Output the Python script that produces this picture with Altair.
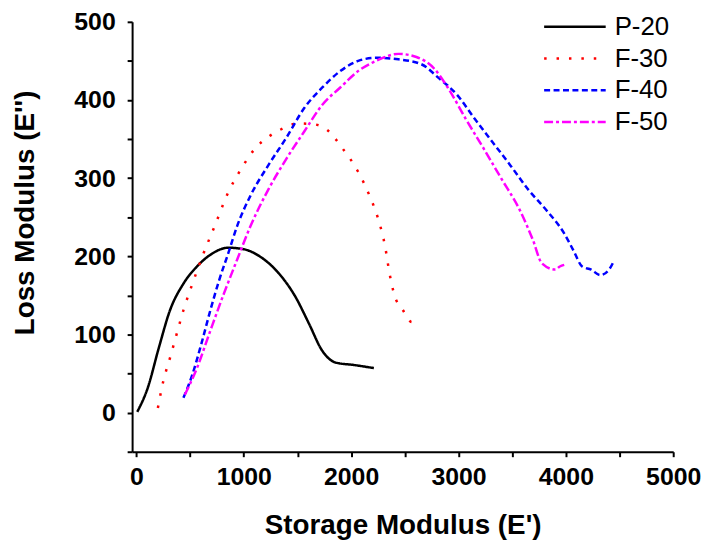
import altair as alt
import pandas as pd

series_names = ["P-20", "F-30", "F-40", "F-50"]
series_colors = ["#000000", "#ff0000", "#0000ff", "#ff00ff"]
series_dashes = [[1, 0], [2.5, 10], [6, 3.5], [9, 3, 3, 3]]

p20_x = [8, 104, 209, 313, 438, 564, 689, 856, 1002, 1148, 1315, 1482, 1607, 1732, 1857, 2024, 2212]
p20_y = [1, 31, 83, 131, 165, 187, 202, 211, 209, 200, 180, 148, 114, 79, 64, 61, 57]

f30_x = [200, 250, 313, 376, 438, 522, 626, 730, 856, 981, 1106, 1231, 1356, 1503, 1649, 1774, 1920,
         2066, 2170, 2254, 2316, 2358, 2400, 2483, 2566, 2590, 2610]
f30_y = [6, 40, 70, 101, 131, 165, 204, 239, 282, 313, 338, 353, 363, 370, 369, 362, 338,
         308, 278, 247, 213, 178, 152, 131, 116, 120, 125]

f40_x = [438, 522, 605, 689, 772, 856, 939, 1064, 1231, 1398, 1565, 1732, 1899, 2066, 2233, 2441,
         2650, 2817, 2984, 3151, 3318, 3485, 3652, 3819, 3986, 4069, 4152, 4236, 4319, 4402, 4444]
f40_y = [19, 49, 88, 131, 170, 204, 239, 278, 317, 352, 390, 416, 437, 450, 454, 452,
         446, 428, 407, 376, 346, 316, 285, 259, 229, 208, 187, 183, 176, 183, 193]

f50_x = [451, 564, 689, 814, 939, 1064, 1231, 1398, 1565, 1732, 1899, 2066, 2233, 2441, 2608,
         2775, 2900, 3067, 3234, 3401, 3568, 3693, 3777, 3902, 3944, 3985]
f50_y = [23, 57, 105, 152, 196, 239, 286, 325, 360, 394, 416, 437, 450, 459, 455,
         440, 416, 376, 338, 299, 260, 221, 191, 183, 187, 189]

x_ticks = [0, 500, 1000, 1500, 2000, 2500, 3000, 3500, 4000, 4500, 5000]
y_ticks = [-50, 0, 50, 100, 150, 200, 250, 300, 350, 400, 450, 500]

rows = []
for name, xs, ys in zip(series_names, [p20_x, f30_x, f40_x, f50_x], [p20_y, f30_y, f40_y, f50_y]):
    for i, (xv, yv) in enumerate(zip(xs, ys)):
        rows.append({"series": name, "E1": xv, "E2": yv, "idx": i})
df = pd.DataFrame(rows)

FONT = "Liberation Sans"

chart = alt.Chart(df).mark_line(strokeWidth=2.5, interpolate="monotone").encode(
    x=alt.X("E1:Q", scale=alt.Scale(domain=[-40, 5000], nice=False, zero=False),
            axis=alt.Axis(title="Storage Modulus (E')", values=x_ticks,
                          labelExpr="datum.value % 1000 == 0 ? datum.label : ''",
                          format="d", labelPadding=8, titlePadding=22, labelFlush=False)),
    y=alt.Y("E2:Q", scale=alt.Scale(domain=[-50, 500], nice=False, zero=False),
            axis=alt.Axis(title="Loss Modulus (E'')", values=y_ticks,
                          labelExpr="datum.value % 100 == 0 && datum.value >= 0 ? datum.label : ''",
                          format="d", labelPadding=12, labelFlush=False,
                          titleX=-99, titleY=192, titleBaseline="alphabetic",
                          titleAngle=270, titleAlign="center")),
    color=alt.Color("series:N", scale=alt.Scale(domain=series_names, range=series_colors),
                    legend=alt.Legend(title=None, orient="none", legendX=429, legendY=-12,
                                      symbolType="M-2,0H2", symbolSize=961, symbolStrokeWidth=2.5,
                                      symbolFillColor="transparent",
                                      labelFontSize=26, labelFont=FONT, labelColor="black",
                                      rowPadding=2, labelOffset=23, symbolOffset=0,
                                      padding=0)),
    strokeDash=alt.StrokeDash("series:N", scale=alt.Scale(domain=series_names, range=series_dashes),
                              legend=None),
    order="idx:Q",
).properties(
    width=545, height=433,
    autosize="none",
    padding={"left": 125, "top": 12, "right": 29, "bottom": 90},
).configure_view(stroke=None).configure_axis(
    grid=False,
    domainColor="black", domainWidth=2,
    tickColor="black", tickWidth=2, tickSize=5,
    labelColor="black", labelFont=FONT, labelFontSize=25, labelFontWeight="bold",
    titleColor="black", titleFont=FONT, titleFontSize=28, titleFontWeight="bold",
)

chart.save("out.html", embed_options={"renderer": "svg", "actions": False})
